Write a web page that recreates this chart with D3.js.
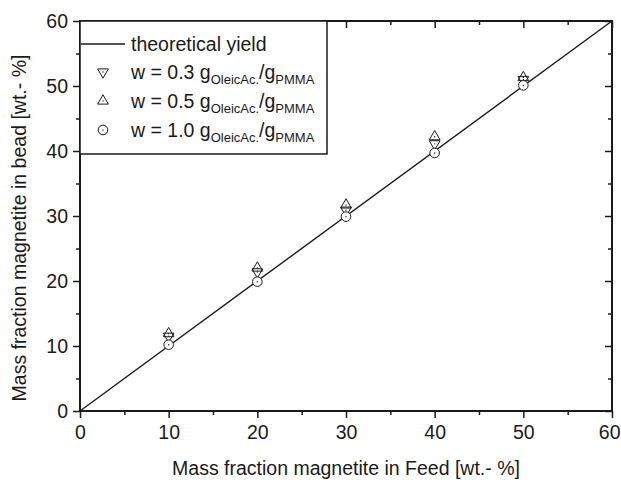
<!DOCTYPE html>
<html><head><meta charset="utf-8">
<script src="https://cdn.jsdelivr.net/npm/d3@7"></script>
<style>body{margin:0;background:#fff}svg{display:block}text{font-family:Arial,"Liberation Sans",sans-serif;fill:#1a1a1a}</style>
</head><body>
<svg id="c" width="621" height="480"></svg>
<script>
const feed = [10, 20, 30, 40, 50];
const w03 = [11.5, 21.4, 30.9, 41.1, 51.0];
const w05 = [11.9, 22.0, 31.7, 42.2, 51.3];
const w10 = [10.2, 19.9, 29.9, 39.7, 50.1];
const theoryX = [0, 60];
const xTicks = [0, 10, 20, 30, 40, 50, 60];
const yTicks = [0, 10, 20, 30, 40, 50, 60];
const minorTicks = [5, 15, 25, 35, 45, 55];

const svg = d3.select("#c");
const L = 80, R = 612, T = 21, B = 411;
const x = d3.scaleLinear().domain([0, 60]).range([L, R]);
const y = d3.scaleLinear().domain([0, 60]).range([B, T]);
const ink = "#1a1a1a";
const fs = 19.5;

svg.append("path")
  .attr("d", d3.line().x(d => x(d)).y(d => y(d))(theoryX))
  .attr("stroke", ink).attr("stroke-width", 1.4).attr("fill", "none");

const bx = svg.append("g").attr("transform", `translate(0,${B})`)
  .call(d3.axisBottom(x).tickValues(xTicks).tickSize(7).tickPadding(7));
const bxm = svg.append("g").attr("transform", `translate(0,${B})`)
  .call(d3.axisBottom(x).tickValues(minorTicks).tickSize(4).tickFormat(""));
const ly = svg.append("g").attr("transform", `translate(${L},0)`)
  .call(d3.axisLeft(y).tickValues(yTicks).tickSize(7).tickPadding(5));
const lym = svg.append("g").attr("transform", `translate(${L},0)`)
  .call(d3.axisLeft(y).tickValues(minorTicks).tickSize(4).tickFormat(""));
const tx = svg.append("g").attr("transform", `translate(0,${T})`)
  .call(d3.axisBottom(x).tickValues(xTicks).tickSize(7).tickFormat(""));
const txm = svg.append("g").attr("transform", `translate(0,${T})`)
  .call(d3.axisBottom(x).tickValues(minorTicks).tickSize(4).tickFormat(""));
const ry = svg.append("g").attr("transform", `translate(${R},0)`)
  .call(d3.axisLeft(y).tickValues(yTicks).tickSize(7).tickFormat(""));
const rym = svg.append("g").attr("transform", `translate(${R},0)`)
  .call(d3.axisLeft(y).tickValues(minorTicks).tickSize(4).tickFormat(""));
[bx, bxm, ly, lym, tx, txm, ry, rym].forEach(g => {
  g.select(".domain").remove();
  g.selectAll("line").attr("stroke", ink).attr("stroke-width", 1.5);
  g.selectAll("text").attr("font-size", fs).attr("fill", ink);
});
bx.selectAll(".tick text").filter(d => d === 60).attr("text-anchor", "end").attr("dx", "8");
svg.append("rect").attr("x", L).attr("y", T).attr("width", R - L).attr("height", B - T)
  .attr("fill", "none").attr("stroke", ink).attr("stroke-width", 2);

svg.append("text").attr("x", (L + R) / 2).attr("y", 475).attr("text-anchor", "middle")
  .attr("font-size", fs).text("Mass fraction magnetite in Feed [wt.- %]");
svg.append("text").attr("transform", `translate(26,228) rotate(-90)`)
  .attr("text-anchor", "middle").attr("font-size", fs).text("Mass fraction magnetite in bead [wt.- %]");

const triUp = d3.symbol().type(d3.symbolTriangle).size(50);
function drawTri(g, px, py, down) {
  g.append("path").attr("d", triUp())
    .attr("transform", `translate(${px},${py})${down ? " rotate(180)" : ""}`)
    .attr("fill", "none").attr("stroke", ink).attr("stroke-width", 1);
  g.append("circle").attr("cx", px).attr("cy", py).attr("r", 0.7).attr("fill", ink);
}
function drawCirc(g, px, py) {
  g.append("circle").attr("cx", px).attr("cy", py).attr("r", 4.8)
    .attr("fill", "#fff").attr("stroke", ink).attr("stroke-width", 1);
  g.append("circle").attr("cx", px).attr("cy", py).attr("r", 0.7).attr("fill", ink);
}
const pts = svg.append("g");
feed.forEach((f, i) => drawTri(pts, x(f), y(w03[i]), true));
feed.forEach((f, i) => drawTri(pts, x(f), y(w05[i]), false));
feed.forEach((f, i) => drawCirc(pts, x(f), y(w10[i])));

const lg = svg.append("g");
lg.append("rect").attr("x", L).attr("y", T).attr("width", 247).attr("height", 133)
  .attr("fill", "#fff").attr("stroke", ink).attr("stroke-width", 1.5);
lg.append("line").attr("x1", L + 1).attr("x2", 125).attr("y1", 44).attr("y2", 44)
  .attr("stroke", ink).attr("stroke-width", 1.4);
lg.append("text").attr("x", 131).attr("y", 51).attr("font-size", fs).text("theoretical yield");
const rows = [
  {w: "0.3", kind: "down", yy: 74},
  {w: "0.5", kind: "up", yy: 103},
  {w: "1.0", kind: "circ", yy: 132}
];
rows.forEach(r => {
  if (r.kind === "circ") drawCirc(lg, 103, r.yy - 2);
  else drawTri(lg, 103, r.yy - 2, r.kind === "down");
  const t = lg.append("text").attr("x", 131).attr("y", r.yy + 5).attr("font-size", fs);
  t.append("tspan").text(`w = ${r.w} g`);
  t.append("tspan").attr("font-size", 13).attr("dy", 5).text("OleicAc.");
  t.append("tspan").attr("dy", -5).text("/g");
  t.append("tspan").attr("font-size", 13).attr("dy", 5).text("PMMA");
});
</script>
</body></html>
